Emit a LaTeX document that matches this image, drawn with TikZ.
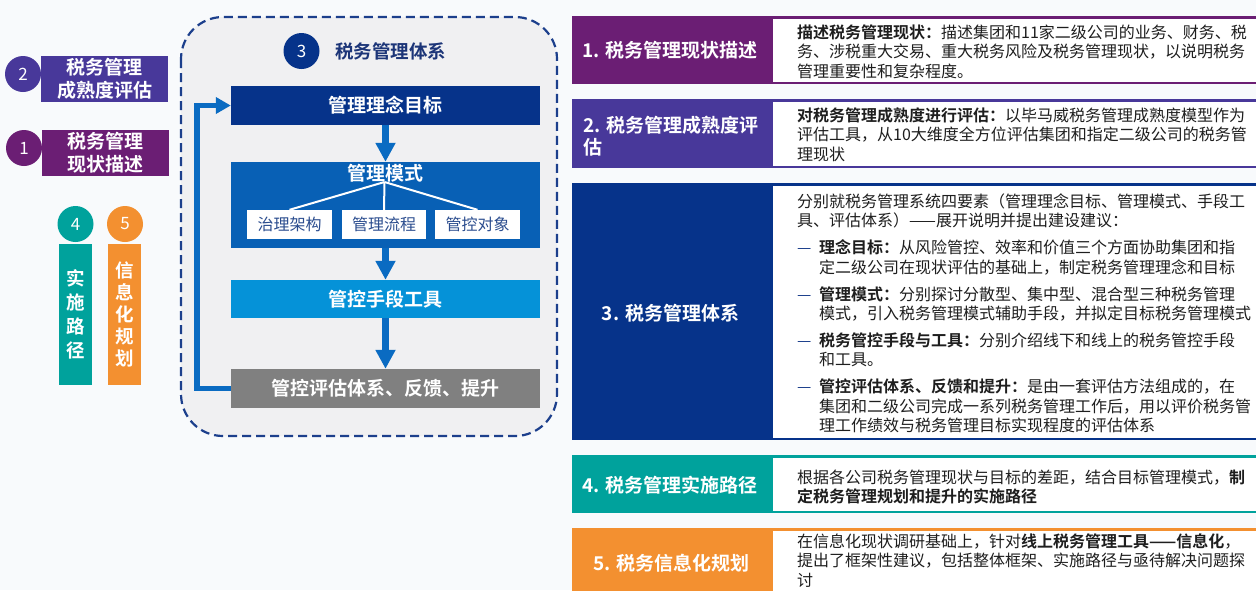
\documentclass[tikz,border=0pt]{standalone}
\usepackage{fontspec}
\setmainfont{Noto Sans CJK SC}[BoldFont={Noto Sans CJK SC Bold}]
\usetikzlibrary{arrows.meta}
\definecolor{bgc}{HTML}{F8FAFC}
\definecolor{cPurple}{HTML}{6B1E74}
\definecolor{cIndigo}{HTML}{48389A}
\definecolor{cNavy}{HTML}{06338A}
\definecolor{cTeal}{HTML}{00A29C}
\definecolor{cOrange}{HTML}{F39030}
\definecolor{cBlueMid}{HTML}{0860B5}
\definecolor{cBlueLight}{HTML}{0592D8}
\definecolor{cGray}{HTML}{808080}
\definecolor{cArrow}{HTML}{0A6BC2}
\definecolor{cDash}{HTML}{1C3F8C}
\definecolor{cPanel}{HTML}{F0F0F2}
\definecolor{cTitle}{HTML}{1C3578}
\definecolor{cSub}{HTML}{2A4C8E}
\definecolor{textc}{HTML}{1E1E1E}
\newcommand{\dashmark}{\makebox[22pt][l]{\textcolor{cDash}{—}}}
\newcommand{\itind}{\hspace*{22pt}}
\begin{document}
\begin{tikzpicture}[x=1pt,y=-1pt,
  numc/.style={circle, minimum size=36pt, inner sep=0pt, text=white, font=\fontsize{17}{17}\selectfont},
  lbox/.style={inner sep=0pt, text=white, font=\bfseries\fontsize{19}{23}\selectfont, align=center},
  vbox/.style={inner sep=0pt, text=white, minimum width=33pt, minimum height=141pt, align=center},
  gbox/.style={inner sep=0pt, text=white, minimum width=309pt, font=\bfseries\fontsize{19}{23}\selectfont},
  subbox/.style={fill=white, inner sep=0pt, minimum height=29pt, text=cSub, font=\fontsize{16}{16}\selectfont},
  downarr/.style={draw=cArrow, line width=6.5pt, -{Triangle[width=19pt,length=19pt]}},
  fbarr/.style={draw=cArrow, line width=5.5pt, -{Triangle[width=16pt,length=15pt]}},
  rlabel/.style={inner sep=0pt, text=white, font=\bfseries\fontsize{19}{22}\selectfont},
  rtext/.style={anchor=north west, inner sep=0pt, align=left, text=textc, font=\fontsize{16}{19.4}\selectfont}
]
\useasboundingbox (0,0) rectangle (1256,590);
\clip (0,0) rectangle (1256,590);
\fill[bgc] (0,0) rectangle (1256,590);

% ---------- left ----------
\node[numc, fill=cIndigo] (n2) at (23,74) {2};
\node[lbox, fill=cIndigo, minimum width=127pt, minimum height=46pt] (b2) at (104.5,79) {税务管理\\成熟度评估};
\node[numc, fill=cPurple] (n1) at (24,148) {1};
\node[lbox, fill=cPurple, minimum width=127pt, minimum height=46pt] (b1) at (105.5,153) {税务管理\\现状描述};

\node[numc, fill=cTeal] (n4) at (75.5,224) {4};
\node[vbox, fill=cTeal, font=\bfseries\fontsize{18.5}{24}\selectfont] (b4) at (75.5,314.5) {实\\施\\路\\径};
\node[numc, fill=cOrange] (n5) at (125,224) {5};
\node[vbox, fill=cOrange, font=\bfseries\fontsize{18.5}{22}\selectfont] (b5) at (124.5,314.5) {信\\息\\化\\规\\划};

% ---------- middle panel ----------
\draw[draw=cDash, fill=cPanel, line width=2.2pt, dash pattern=on 9pt off 5pt, rounded corners=42pt] (181,17) rectangle (557,436);
\node[numc, fill=cNavy] (n3) at (301.5,51) {3};
\node[anchor=west, inner sep=0pt, text=cTitle, font=\bfseries\fontsize{18.5}{19}\selectfont] (t3) at (335,51) {税务管理体系};

\node[gbox, fill=cNavy, minimum height=39pt] (g1) at (385.5,105.5) {管理理念目标};
\node[gbox, fill=cBlueMid, minimum height=86pt] (g2) at (385.5,205) {};
\node[inner sep=0pt, text=white, font=\bfseries\fontsize{19}{23}\selectfont] (g2t) at (385.5,173) {管理模式};
\coordinate (hub) at (384.5,182);
\node[subbox, minimum width=85pt] (s1) at (289.5,224.5) {治理架构};
\node[subbox, minimum width=84pt] (s2) at (384,224.5) {管理流程};
\node[subbox, minimum width=85pt] (s3) at (477.5,224.5) {管控对象};
\draw[white, line width=2pt] (hub) -- (s1.north);
\draw[white, line width=2pt] (hub) -- (s2.north);
\draw[white, line width=2pt] (hub) -- (s3.north);
\node[gbox, fill=cBlueLight, minimum height=38pt] (g3) at (385.5,299) {管控手段工具};
\node[gbox, fill=cGray, minimum height=39pt] (g4) at (385.5,388.5) {管控评估体系、反馈、提升};

\draw[downarr] (g1.south) -- (g2.north);
\draw[downarr] (g2.south) -- (g3.north);
\draw[downarr] (g3.south) -- (g4.north);
\draw[fbarr] (g4.west) -- ++(-34,0) |- (g1.west);

% ---------- right rows ----------
\fill[cPurple] (572,16) rectangle (1262,84);
\fill[white] (773,18.5) rectangle (1262,81.5);
\node[rlabel] (r1) at (670,50) {1. 税务管理现状描述};
\node[rtext] (d1) at (797,24.5) {\textbf{描述税务管理现状：}描述集团和11家二级公司的业务、财务、税\\务、涉税重大交易、重大税务风险及税务管理现状，以说明税务\\管理重要性和复杂程度。};

\fill[cIndigo] (572,99) rectangle (1262,168);
\fill[white] (773,101.5) rectangle (1262,165.5);
\node[rlabel, anchor=west, align=left] (r2) at (583,136) {2. 税务管理成熟度评\\估};
\node[rtext] (d2) at (797,107.5) {\textbf{对税务管理成熟度进行评估：}以毕马威税务管理成熟度模型作为\\评估工具，从10大维度全方位评估集团和指定二级公司的税务管\\理现状};

\fill[cNavy] (572,183) rectangle (1262,440);
\fill[white] (773,185.5) rectangle (1262,437.5);
\node[rlabel] (r3) at (670.5,313) {3. 税务管理体系};
\node[rtext] (d3) at (797,193.5) {分别就税务管理系统四要素（管理理念目标、管理模式、手段工\\具、评估体系）——展开说明并提出建设建议：\\[7.5pt]
\dashmark\textbf{理念目标：}从风险管控、效率和价值三个方面协助集团和指\\\itind 定二级公司在现状评估的基础上，制定税务管理理念和目标\\[7.5pt]
\dashmark\textbf{管理模式：}分别探讨分散型、集中型、混合型三种税务管理\\\itind 模式，引入税务管理模式辅助手段，并拟定目标税务管理模式\\[7.5pt]
\dashmark\textbf{税务管控手段与工具：}分别介绍线下和线上的税务管控手段\\\itind 和工具。\\[7.5pt]
\dashmark\textbf{管控评估体系、反馈和提升：}是由一套评估方法组成的，在\\\itind 集团和二级公司完成一系列税务管理工作后，用以评价税务管\\\itind 理工作绩效与税务管理目标实现程度的评估体系};

\fill[cTeal] (572,455) rectangle (1262,513);
\fill[white] (773,457.5) rectangle (1262,510.5);
\node[rlabel] (r4) at (670,485) {4. 税务管理实施路径};
\node[rtext] (d4) at (797,469.5) {根据各公司税务管理现状与目标的差距，结合目标管理模式，\textbf{制}\\\textbf{定税务管理规划和提升的实施路径}};

\fill[cOrange] (572,528) rectangle (1262,600);
\fill[white] (773,530.5) rectangle (1262,600);
\node[rlabel] (r5) at (671.5,563) {5. 税务信息化规划};
\node[rtext] (d5) at (797,533.5) {在信息化现状调研基础上，针对\textbf{线上税务管理工具——信息化}，\\提出了框架性建议，包括整体框架、实施路径与亟待解决问题探\\讨};
\end{tikzpicture}
\end{document}
